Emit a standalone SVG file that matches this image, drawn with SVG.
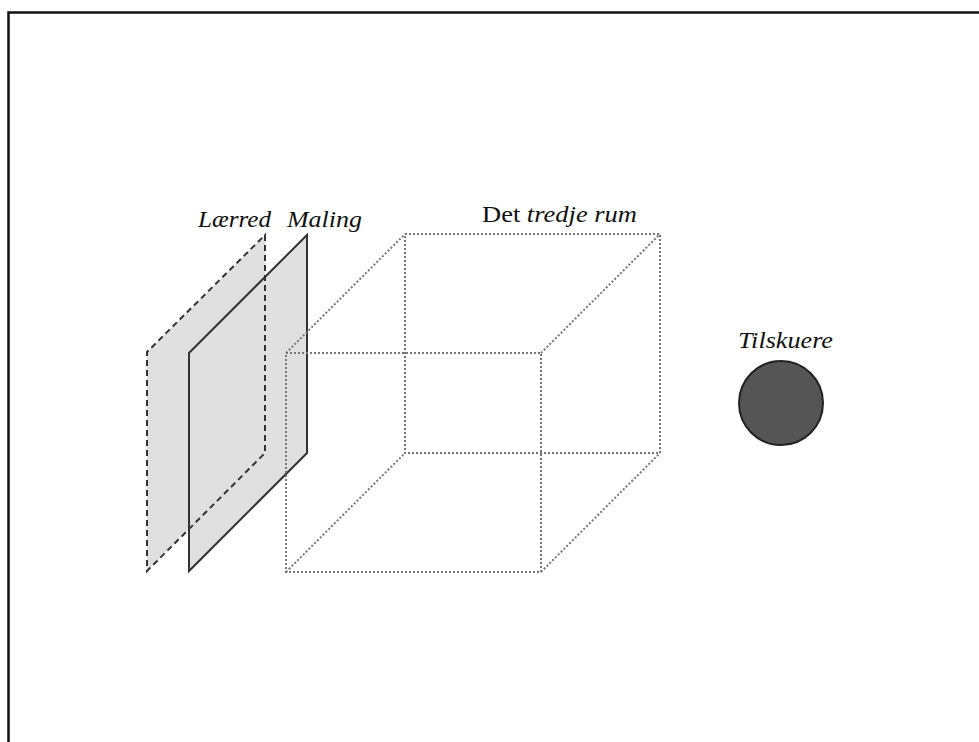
<svg xmlns="http://www.w3.org/2000/svg" width="979" height="742" viewBox="0 0 979 742">
<style>
.plane{fill:#e0e0e0;stroke:none}
.dash{fill:none;stroke:#333;stroke-width:2;stroke-dasharray:6,4}
.solid{fill:none;stroke:#333;stroke-width:2;stroke-linejoin:miter}
.dot{fill:none;stroke:#777;stroke-width:2;stroke-dasharray:2,2}
.lbl{font-family:"Liberation Serif","DejaVu Serif",serif;font-size:23px;fill:#111}
.it{font-style:italic}
</style>
<rect width="979" height="742" fill="#fff"/>
<path d="M8.5,742 V12.5 H979" fill="none" stroke="#111" stroke-width="2.5"/>
<g id="laerred">
<polygon class="plane" points="265,235 265,453 147,571 147,352"/>
</g>
<g id="maling">
<polygon class="plane" points="307,235 307,453 189,571 189,353"/>
</g>
<g id="laerred-outline">
<polygon class="dash" points="265,235 265,453 147,571 147,352"/>
</g>
<g id="maling-outline">
<polygon class="solid" points="307,235 307,453 189,571 189,353"/>
</g>
<g id="rum">
<rect class="dot" x="405" y="234" width="255" height="219"/>
<rect class="dot" x="286" y="353" width="255" height="219"/>
<path class="dot" d="M286,353 L405,234 M541,353 L660,234 M286,572 L405,453 M541,572 L660,453"/>
</g>
<g id="tilskuere">
<circle cx="781" cy="403" r="42" fill="#555" stroke="#222" stroke-width="2"/>
</g>
<g id="labels">
<text class="lbl it" x="198" y="227" textLength="73" lengthAdjust="spacingAndGlyphs">Lærred</text>
<text class="lbl it" x="287" y="227" textLength="75" lengthAdjust="spacingAndGlyphs">Maling</text>
<text class="lbl" x="482" y="222" textLength="155" lengthAdjust="spacingAndGlyphs">Det <tspan class="it">tredje rum</tspan></text>
<text class="lbl it" x="738" y="348" textLength="95" lengthAdjust="spacingAndGlyphs">Tilskuere</text>
</g>
</svg>
